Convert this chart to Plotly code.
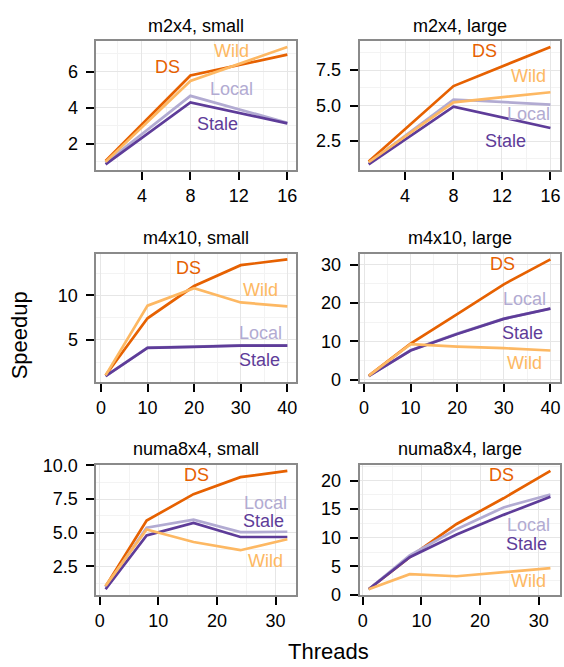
import plotly.graph_objects as go
from plotly.subplots import make_subplots

# ---------------- data ----------------
series_names = ["DS", "Local", "Stale", "Wild"]
series_colors = ["#E66101", "#B2ABD2", "#5E3C99", "#FDB863"]

panel_titles = ["m2x4, small", "m2x4, large", "m4x10, small", "m4x10, large",
                "numa8x4, small", "numa8x4, large"]

threads_m2x4 = [1, 8, 16]
threads_m4x10 = [1, 10, 20, 30, 40]
threads_numa = [1, 8, 16, 24, 32]

# m2x4, small
m2s_ds = [1.05, 5.79, 6.94]
m2s_local = [0.95, 4.66, 3.17]
m2s_stale = [0.86, 4.29, 3.13]
m2s_wild = [1.0, 5.48, 7.37]

# m2x4, large
m2l_ds = [1.06, 6.38, 9.14]
m2l_local = [0.95, 5.43, 5.07]
m2l_stale = [0.85, 4.93, 3.42]
m2l_wild = [1.0, 5.23, 5.94]

# m4x10, small
m4s_ds = [1.01, 7.42, 11.05, 13.4, 14.05]
m4s_local = [0.92, 4.12, 4.22, 4.37, 4.37]
m4s_stale = [0.9, 4.1, 4.2, 4.35, 4.35]
m4s_wild = [1.0, 8.84, 10.8, 9.2, 8.77]

# m4x10, large
m4l_ds = [1.0, 9.4, 17.1, 24.85, 31.35]
m4l_local = [0.95, 7.65, 12.0, 15.9, 18.55]
m4l_stale = [0.9, 7.6, 11.9, 15.85, 18.5]
m4l_wild = [1.0, 9.25, 8.6, 8.2, 7.6]

# numa8x4, small
n8s_ds = [1.0, 5.9, 7.87, 9.13, 9.6]
n8s_local = [0.95, 5.37, 5.97, 5.04, 5.07]
n8s_stale = [0.8, 4.8, 5.73, 4.68, 4.68]
n8s_wild = [1.05, 5.24, 4.31, 3.7, 4.51]

# numa8x4, large
n8l_ds = [1.0, 6.6, 12.4, 16.9, 21.7]
n8l_local = [1.0, 6.9, 11.5, 15.3, 17.55]
n8l_stale = [1.0, 6.6, 10.57, 14.0, 17.15]
n8l_wild = [1.0, 3.63, 3.26, 3.94, 4.68]

panel_x = [threads_m2x4, threads_m2x4, threads_m4x10, threads_m4x10, threads_numa, threads_numa]
panel_y = [
    [m2s_ds, m2s_local, m2s_stale, m2s_wild],
    [m2l_ds, m2l_local, m2l_stale, m2l_wild],
    [m4s_ds, m4s_local, m4s_stale, m4s_wild],
    [m4l_ds, m4l_local, m4l_stale, m4l_wild],
    [n8s_ds, n8s_local, n8s_stale, n8s_wild],
    [n8l_ds, n8l_local, n8l_stale, n8l_wild],
]

# direct-label positions (x, y) per panel, order DS, Local, Stale, Wild
label_x = [
    [6.1, 11.4, 10.25, 11.4],
    [10.6, 14.2, 12.3, 14.2],
    [18.7, 34.3, 34.1, 34.3],
    [29.7, 34.5, 34.1, 34.5],
    [16.5, 28.2, 28.0, 28.3],
    [23.6, 28.2, 27.9, 28.2],
]
label_y = [
    [6.23, 5.02, 3.11, 7.15],
    [8.83, 4.4, 2.5, 7.07],
    [13.08, 5.8, 2.75, 10.6],
    [30.25, 21.1, 12.2, 4.25],
    [9.26, 7.18, 5.9, 2.91],
    [20.98, 12.3, 8.97, 2.5],
]

x_ticks = [[4, 8, 12, 16], [4, 8, 12, 16], [0, 10, 20, 30, 40], [0, 10, 20, 30, 40],
           [0, 10, 20, 30], [0, 10, 20, 30]]
y_ticks = [[2, 4, 6], [2.5, 5.0, 7.5], [5, 10], [0, 10, 20, 30], [2.5, 5.0, 7.5, 10.0],
           [0, 5, 10, 15, 20]]
y_ticktext = [["2", "4", "6"], ["2.5", "5.0", "7.5"], ["5", "10"], ["0", "10", "20", "30"],
              ["2.5", "5.0", "7.5", "10.0"], ["0", "5", "10", "15", "20"]]

# ---------------- layout ----------------
W, H = 564, 667
col_px = [(95, 296), (359.5, 560.5)]
row_px = [(33, 166), (251.7, 384), (469.3, 603.3)]
FONT = "Liberation Sans, Arial, Helvetica, sans-serif"

fig = make_subplots(rows=3, cols=2)

annotations = []
for i in range(6):
    r, c = i // 2 + 1, i % 2 + 1
    xs = panel_x[i]
    for k, name in enumerate(series_names):
        fig.add_trace(go.Scatter(x=xs, y=panel_y[i][k], mode="lines", name=name,
                                 line=dict(color=series_colors[k], width=2.7),
                                 showlegend=False, hoverinfo="skip"), row=r, col=c)
    # ggplot-style 5% expansion
    xmin, xmax = min(xs), max(xs)
    allv = [v for s in panel_y[i] for v in s]
    ymin, ymax = min(allv), max(allv)
    ex = (xmax - xmin) * 0.05
    ey = (ymax - ymin) * 0.05
    xd = x_ticks[i][1] - x_ticks[i][0]
    yd = y_ticks[i][1] - y_ticks[i][0]
    x0, x1 = col_px[c - 1]
    y0, y1 = row_px[r - 1]
    axis_common = dict(showline=True, linecolor="#8a8a8a", linewidth=2, mirror=True,
                       ticks="outside", ticklen=8, tickwidth=2, tickcolor="black",
                       showgrid=True, gridcolor="#e6e6e6", gridwidth=1, zeroline=False,
                       tickfont=dict(size=18, color="black", family=FONT))
    fig.update_xaxes(range=[xmin - ex, xmax + ex], tickmode="array", tickvals=x_ticks[i],
                     domain=[x0 / W, x1 / W],
                     minor=dict(dtick=xd / 2, tick0=x_ticks[i][0], showgrid=True,
                                gridcolor="#f3f3f3", gridwidth=1),
                     ticklabelstandoff=0,
                     row=r, col=c, **axis_common)
    fig.update_yaxes(range=[ymin - ey, ymax + ey], tickmode="array", tickvals=y_ticks[i],
                     ticktext=y_ticktext[i], domain=[1 - y1 / H, 1 - y0 / H],
                     minor=dict(dtick=yd / 2, tick0=y_ticks[i][0], showgrid=True,
                                gridcolor="#f3f3f3", gridwidth=1),
                     ticklabelstandoff=5,
                     row=r, col=c, **axis_common)
    xref = "x" if i == 0 else f"x{i + 1}"
    yref = "y" if i == 0 else f"y{i + 1}"
    for k, name in enumerate(series_names):
        annotations.append(dict(x=label_x[i][k], y=label_y[i][k], xref=xref, yref=yref,
                                text=name, showarrow=False, xanchor="center", yanchor="middle",
                                font=dict(size=18, color=series_colors[k], family=FONT)))
    # facet title
    annotations.append(dict(x=(x0 + x1) / 2 / W, y=1 - (y0 - 16) / H, xref="paper", yref="paper",
                            text=panel_titles[i], showarrow=False, xanchor="center",
                            yanchor="middle", font=dict(size=18, color="black", family=FONT)))

annotations.append(dict(x=18 / W, y=1 - 336 / H, xref="paper", yref="paper", text="Speedup",
                        textangle=-90, showarrow=False, xanchor="center", yanchor="middle",
                        font=dict(size=22, color="black", family=FONT)))
annotations.append(dict(x=327.75 / W, y=-9 / H, xref="paper", yref="paper", text="Threads",
                        showarrow=False, xanchor="center", yanchor="bottom",
                        font=dict(size=22, color="black", family=FONT)))

fig.update_layout(width=W, height=H, margin=dict(l=0, r=0, t=0, b=0),
                  paper_bgcolor="white", plot_bgcolor="white",
                  annotations=annotations, showlegend=False,
                  font=dict(family=FONT, color="black"))

fig.write_html("out.html")
